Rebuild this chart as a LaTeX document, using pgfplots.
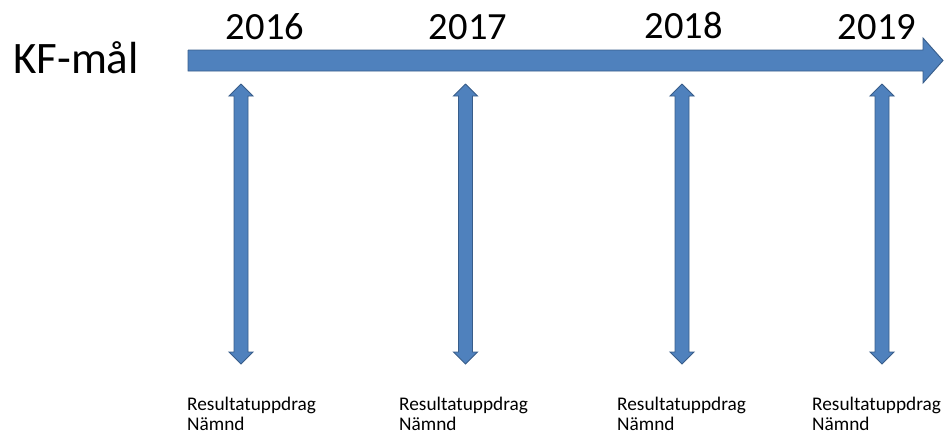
\documentclass[border=0pt]{standalone}
\usepackage{pgfplots}
\pgfplotsset{compat=1.18}
\usepackage{fontspec}
\setmainfont{Carlito}
\definecolor{arrfill}{RGB}{79,129,189}
\definecolor{arrdraw}{RGB}{56,93,138}
\begin{document}
\begin{tikzpicture}
\useasboundingbox (0,0) rectangle (944pt,434pt);
\begin{axis}[
  at={(0,0)}, anchor=south west,
  scale only axis, width=944pt, height=434pt,
  xmin=0, xmax=944, ymin=0, ymax=434, y dir=reverse,
  hide axis, clip=false,
]
% main timeline arrow
\addplot[fill=arrfill, draw=arrdraw, line width=0.9pt, line join=miter] coordinates {
 (188,50) (923,50) (923,38) (943,60.5) (923,83) (923,71) (188,71) (188,50)};
% vertical double arrows
\addplot[fill=arrfill, draw=arrdraw, line width=0.9pt] coordinates {
 (241,84) (253,96) (248,96) (248,352) (253,352) (241,364) (229,352) (234,352) (234,96) (229,96) (241,84)};
\addplot[fill=arrfill, draw=arrdraw, line width=0.9pt] coordinates {
 (465.5,84) (477.5,96) (472.5,96) (472.5,352) (477.5,352) (465.5,364) (453.5,352) (458.5,352) (458.5,96) (453.5,96) (465.5,84)};
\addplot[fill=arrfill, draw=arrdraw, line width=0.9pt] coordinates {
 (682,84) (694,96) (689,96) (689,352) (694,352) (682,364) (670,352) (675,352) (675,96) (670,96) (682,84)};
\addplot[fill=arrfill, draw=arrdraw, line width=0.9pt] coordinates {
 (882,84) (894,96) (889,96) (889,352) (894,352) (882,364) (870,352) (875,352) (875,96) (870,96) (882,84)};
% texts
\node[anchor=base west, inner sep=0pt, font=\fontsize{45}{54}\selectfont] at (axis cs:13,73) {KF-mål};
\node[anchor=base, inner sep=0pt, font=\fontsize{38.5}{46}\selectfont] at (axis cs:265,39.5) {2016};
\node[anchor=base, inner sep=0pt, font=\fontsize{38.5}{46}\selectfont] at (axis cs:468,39) {2017};
\node[anchor=base, inner sep=0pt, font=\fontsize{38.5}{46}\selectfont] at (axis cs:683.5,38) {2018};
\node[anchor=base, inner sep=0pt, font=\fontsize{38.5}{46}\selectfont] at (axis cs:877,39) {2019};
\foreach \xx in {187,399,617,812} {
  \edef\temp{\noexpand\node[anchor=base west, inner sep=0pt, font=\noexpand\fontsize{19.3}{23}\noexpand\selectfont] at (axis cs:\xx,410) {Resultatuppdrag};
  \noexpand\node[anchor=base west, inner sep=0pt, font=\noexpand\fontsize{19.3}{23}\noexpand\selectfont] at (axis cs:\xx,430.5) {Nämnd};}
  \temp
}
\end{axis}
\end{tikzpicture}
\end{document}
